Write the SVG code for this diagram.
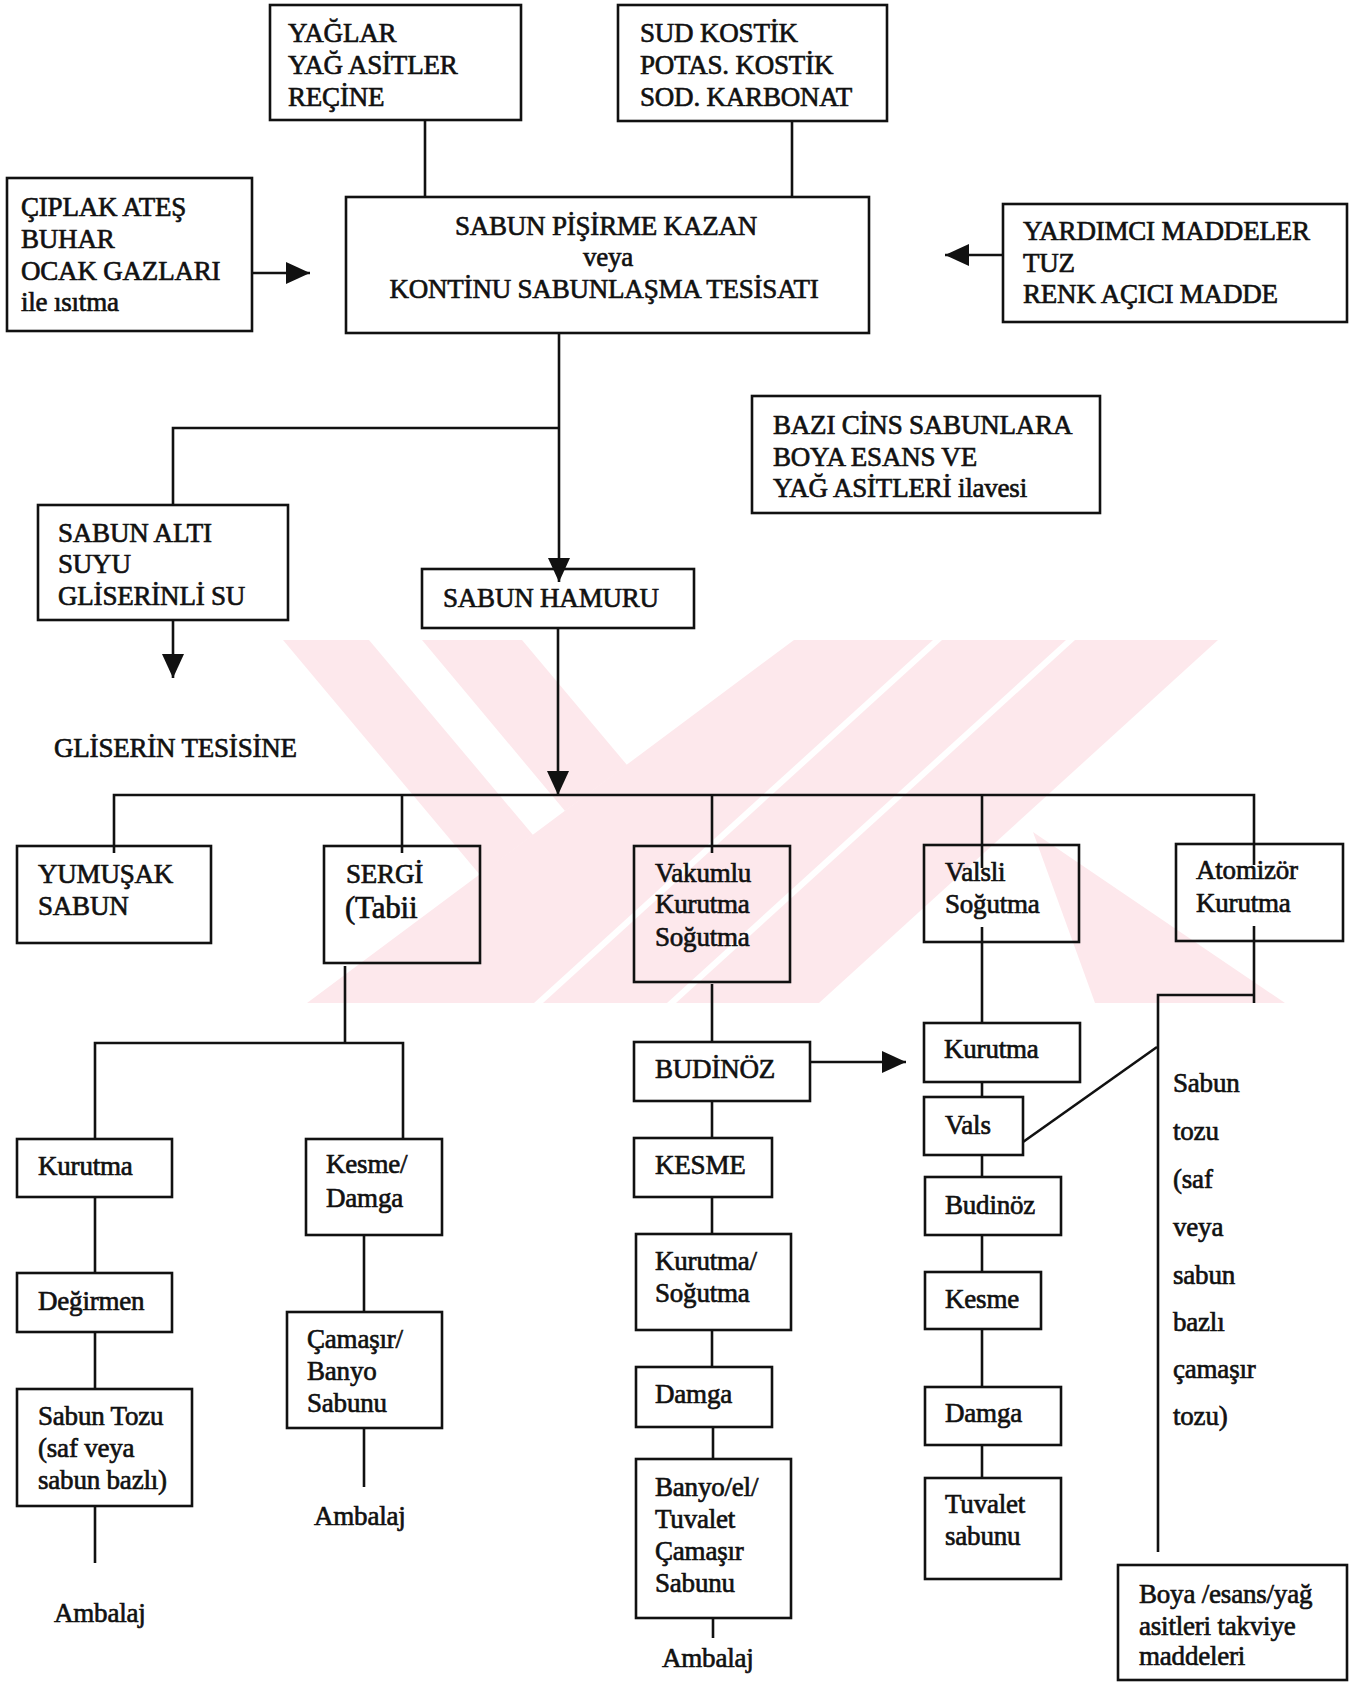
<svg xmlns="http://www.w3.org/2000/svg" width="1349" height="1682" viewBox="0 0 1349 1682">
<style>
.box{fill:none;stroke:#111;stroke-width:2.6}
.ln{fill:none;stroke:#111;stroke-width:2.6}
.t{font-family:"Liberation Serif","Times New Roman",serif;font-size:27px;fill:#111;stroke:#111;stroke-width:0.65;letter-spacing:-0.2px}
.c{text-anchor:middle}
.wm{fill:#fde8ec}
</style>
<defs>
<marker id="ah" markerUnits="userSpaceOnUse" markerWidth="24" markerHeight="22" refX="24" refY="11" orient="auto">
<path d="M0,0 L24,11 L0,22 z" fill="#111"/>
</marker>
<clipPath id="wmclip"><rect x="280" y="640" width="1020" height="363"/></clipPath>
</defs>
<rect width="1349" height="1682" fill="#fff"/>
<g id="watermark" clip-path="url(#wmclip)">
<polygon class="wm" points="283,640 369,640 533,835 480,875"/>
<polygon class="wm" points="422,640 522,640 627,765 565,811"/>
<polygon class="wm" points="794,640 933,640 534,1003 307,1003"/>
<polygon class="wm" points="942,640 1066,640 667,1003 543,1003"/>
<polygon class="wm" points="1075,640 1218,640 819,1003 676,1003"/>
<polygon class="wm" points="1033,832 1285,1003 1095,1003"/>
</g>
<g id="connectors">
<path class="ln" d="M425,120 V197"/>
<path class="ln" d="M792,121 V197"/>
<path class="ln" d="M252,273 H310" marker-end="url(#ah)"/>
<path class="ln" d="M1003,255 H945" marker-end="url(#ah)"/>
<path class="ln" d="M559,333 V582" marker-end="url(#ah)"/>
<path class="ln" d="M559,428 H173 V505"/>
<path class="ln" d="M173,620 V678" marker-end="url(#ah)"/>
<path class="ln" d="M558,628 V795" marker-end="url(#ah)"/>
<path class="ln" d="M114,853 V795 H1254 V865"/>
<path class="ln" d="M402,795 V853"/>
<path class="ln" d="M712,795 V853"/>
<path class="ln" d="M982,795 V868"/>
<path class="ln" d="M345,966 V1043"/>
<path class="ln" d="M95,1139 V1043 H403 V1139"/>
<path class="ln" d="M95,1197 V1273"/>
<path class="ln" d="M95,1332 V1389"/>
<path class="ln" d="M95,1506 V1563"/>
<path class="ln" d="M364,1235 V1312"/>
<path class="ln" d="M364,1428 V1487"/>
<path class="ln" d="M712,984 V1042"/>
<path class="ln" d="M712,1101 V1138"/>
<path class="ln" d="M712,1197 V1234"/>
<path class="ln" d="M712,1330 V1367"/>
<path class="ln" d="M713,1427 V1459"/>
<path class="ln" d="M713,1618 V1638"/>
<path class="ln" d="M810,1062 H906" marker-end="url(#ah)"/>
<path class="ln" d="M982,927 V1023"/>
<path class="ln" d="M982,1082 V1097"/>
<path class="ln" d="M982,1155 V1177"/>
<path class="ln" d="M982,1235 V1272"/>
<path class="ln" d="M982,1329 V1387"/>
<path class="ln" d="M982,1445 V1478"/>
<path class="ln" d="M1023,1142 L1157,1047"/>
<path class="ln" d="M1254,926 V1003"/>
<path class="ln" d="M1254,995 H1158 V1552"/>
</g>
<g id="n_yaglar"><rect class="box" x="270" y="5" width="251" height="115"/>
<text class="t" x="288" y="42">YAĞLAR</text><text class="t" x="288" y="74">YAĞ ASİTLER</text><text class="t" x="288" y="106">REÇİNE</text></g>
<g id="n_sud"><rect class="box" x="618" y="5" width="269" height="116"/>
<text class="t" x="640" y="42">SUD KOSTİK</text><text class="t" x="640" y="74">POTAS. KOSTİK</text><text class="t" x="640" y="106">SOD. KARBONAT</text></g>
<g id="n_ciplak"><rect class="box" x="7" y="178" width="245" height="153"/>
<text class="t" x="21" y="216">ÇIPLAK ATEŞ</text><text class="t" x="21" y="248">BUHAR</text><text class="t" x="21" y="280">OCAK GAZLARI</text><text class="t" x="21" y="311">ile ısıtma</text></g>
<g id="n_kazan"><rect class="box" x="346" y="197" width="523" height="136"/>
<text class="t c" x="606" y="235">SABUN PİŞİRME KAZAN</text><text class="t c" x="608" y="266">veya</text><text class="t c" x="604" y="298">KONTİNU SABUNLAŞMA TESİSATI</text></g>
<g id="n_yardimci"><rect class="box" x="1003" y="204" width="344" height="118"/>
<text class="t" x="1023" y="240">YARDIMCI MADDELER</text><text class="t" x="1023" y="272">TUZ</text><text class="t" x="1023" y="303">RENK AÇICI MADDE</text></g>
<g id="n_bazi"><rect class="box" x="752" y="396" width="348" height="117"/>
<text class="t" x="773" y="434">BAZI CİNS SABUNLARA</text><text class="t" x="773" y="466">BOYA ESANS VE</text><text class="t" x="773" y="497">YAĞ ASİTLERİ ilavesi</text></g>
<g id="n_sabunalti"><rect class="box" x="38" y="505" width="250" height="115"/>
<text class="t" x="58" y="542">SABUN ALTI</text><text class="t" x="58" y="573">SUYU</text><text class="t" x="58" y="605">GLİSERİNLİ SU</text></g>
<g id="n_gliserin"><text class="t" x="54" y="757">GLİSERİN TESİSİNE</text></g>
<g id="n_hamuru"><rect class="box" x="422" y="569" width="272" height="59"/>
<text class="t" x="443" y="607">SABUN HAMURU</text></g>
<g id="n_yumusak"><rect class="box" x="17" y="846" width="194" height="97"/>
<text class="t" x="38" y="883">YUMUŞAK</text><text class="t" x="38" y="915">SABUN</text></g>
<g id="n_sergi"><rect class="box" x="324" y="846" width="156" height="117"/>
<text class="t" x="346" y="883">SERGİ</text><text class="t" x="345" y="918" style="font-size:31px">(Tabii</text></g>
<g id="n_vakumlu"><rect class="box" x="634" y="846" width="156" height="136"/>
<text class="t" x="655" y="882">Vakumlu</text><text class="t" x="655" y="913">Kurutma</text><text class="t" x="655" y="946">Soğutma</text></g>
<g id="n_valsli"><rect class="box" x="924" y="845" width="155" height="97"/>
<text class="t" x="945" y="881">Valsli</text><text class="t" x="945" y="913">Soğutma</text></g>
<g id="n_atomizor"><rect class="box" x="1176" y="844" width="167" height="97"/>
<text class="t" x="1196" y="879">Atomizör</text><text class="t" x="1196" y="912">Kurutma</text></g>
<g id="n_kurutma1"><rect class="box" x="17" y="1139" width="155" height="58"/>
<text class="t" x="38" y="1175">Kurutma</text></g>
<g id="n_kesmedamga"><rect class="box" x="306" y="1139" width="136" height="96"/>
<text class="t" x="326" y="1173">Kesme/</text><text class="t" x="326" y="1207">Damga</text></g>
<g id="n_degirmen"><rect class="box" x="17" y="1273" width="155" height="59"/>
<text class="t" x="38" y="1310">Değirmen</text></g>
<g id="n_sabuntozu"><rect class="box" x="17" y="1389" width="175" height="117"/>
<text class="t" x="38" y="1425">Sabun Tozu</text><text class="t" x="38" y="1457">(saf veya</text><text class="t" x="38" y="1489">sabun bazlı)</text></g>
<g id="n_ambalaj1"><text class="t" x="54" y="1622">Ambalaj</text></g>
<g id="n_camasir"><rect class="box" x="287" y="1312" width="155" height="116"/>
<text class="t" x="307" y="1348">Çamaşır/</text><text class="t" x="307" y="1380">Banyo</text><text class="t" x="307" y="1412">Sabunu</text></g>
<g id="n_ambalaj2"><text class="t" x="314" y="1525">Ambalaj</text></g>
<g id="n_budinoz"><rect class="box" x="634" y="1042" width="176" height="59"/>
<text class="t" x="655" y="1078">BUDİNÖZ</text></g>
<g id="n_kesme"><rect class="box" x="634" y="1138" width="138" height="59"/>
<text class="t" x="655" y="1174">KESME</text></g>
<g id="n_kurutmasog"><rect class="box" x="636" y="1234" width="155" height="96"/>
<text class="t" x="655" y="1270">Kurutma/</text><text class="t" x="655" y="1302">Soğutma</text></g>
<g id="n_damga1"><rect class="box" x="636" y="1367" width="136" height="60"/>
<text class="t" x="655" y="1403">Damga</text></g>
<g id="n_banyo"><rect class="box" x="636" y="1459" width="155" height="159"/>
<text class="t" x="655" y="1496">Banyo/el/</text><text class="t" x="655" y="1528">Tuvalet</text><text class="t" x="655" y="1560">Çamaşır</text><text class="t" x="655" y="1592">Sabunu</text></g>
<g id="n_ambalaj3"><text class="t" x="662" y="1667">Ambalaj</text></g>
<g id="n_kurutma2"><rect class="box" x="924" y="1023" width="156" height="59"/>
<text class="t" x="944" y="1058">Kurutma</text></g>
<g id="n_vals"><rect class="box" x="924" y="1097" width="99" height="58"/>
<text class="t" x="945" y="1134">Vals</text></g>
<g id="n_budinoz2"><rect class="box" x="925" y="1177" width="136" height="58"/>
<text class="t" x="945" y="1214">Budinöz</text></g>
<g id="n_kesme2"><rect class="box" x="925" y="1272" width="116" height="57"/>
<text class="t" x="945" y="1308">Kesme</text></g>
<g id="n_damga2"><rect class="box" x="925" y="1387" width="136" height="58"/>
<text class="t" x="945" y="1422">Damga</text></g>
<g id="n_tuvalet"><rect class="box" x="925" y="1478" width="136" height="101"/>
<text class="t" x="945" y="1513">Tuvalet</text><text class="t" x="945" y="1545">sabunu</text></g>
<g id="n_sabuntozu2">
<text class="t" x="1173" y="1092">Sabun</text><text class="t" x="1173" y="1140">tozu</text><text class="t" x="1173" y="1188">(saf</text><text class="t" x="1173" y="1236">veya</text><text class="t" x="1173" y="1284">sabun</text><text class="t" x="1173" y="1331">bazlı</text><text class="t" x="1173" y="1378">çamaşır</text><text class="t" x="1173" y="1425">tozu)</text></g>
<g id="n_boya"><rect class="box" x="1118" y="1565" width="229" height="115"/>
<text class="t" x="1139" y="1603">Boya /esans/yağ</text><text class="t" x="1139" y="1635">asitleri takviye</text><text class="t" x="1139" y="1665">maddeleri</text></g>
</svg>
